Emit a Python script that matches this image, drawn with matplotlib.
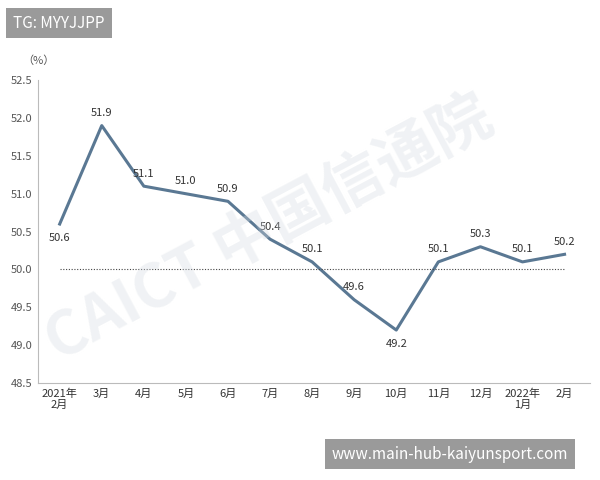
import matplotlib
matplotlib.use("Agg")
import matplotlib.pyplot as plt

plt.rcParams['font.family'] = ['Noto Sans CJK SC', 'DejaVu Sans']

categories = ["2021年\n2月", "3月", "4月", "5月", "6月", "7月", "8月", "9月", "10月", "11月", "12月", "2022年\n1月", "2月"]
values = [50.6, 51.9, 51.1, 51.0, 50.9, 50.4, 50.1, 49.6, 49.2, 50.1, 50.3, 50.1, 50.2]
yticks = [48.5, 49.0, 49.5, 50.0, 50.5, 51.0, 51.5, 52.0, 52.5]
below = {0, 8}

fig = plt.figure(figsize=(6, 4.8), dpi=100)
ax = fig.add_axes([0.063, 0.202, 0.92, 0.631])
x = list(range(len(categories)))
ax.plot(x, values, color='#5a7893', lw=2.2)
for xi, v in zip(x, values):
    if xi in below:
        ax.text(xi, v - 0.12, f"{v:.1f}", ha='center', va='top', fontsize=8, color='#333333')
    else:
        ax.text(xi, v + 0.1, f"{v:.1f}", ha='center', va='bottom', fontsize=8, color='#333333')
ax.plot([x[0], x[-1]], [50, 50], color='#444444', lw=0.8, ls=(0, (1, 1.5)))
ax.set_xlim(-0.52, 12.6)
ax.set_ylim(48.5, 52.5)
ax.set_yticks(yticks)
ax.set_yticklabels([f"{t:.1f}" for t in yticks], fontsize=8, color='#555555')
ax.set_xticks(x)
ax.set_xticklabels(categories, fontsize=8, color='#333333', linespacing=1.1)
ax.tick_params(axis='both', length=0, pad=4)
for s in ['top', 'right']:
    ax.spines[s].set_visible(False)
for s in ['left', 'bottom']:
    ax.spines[s].set_color('#bbbbbb')
ax.text(-0.5, 52.72, "（%）", fontsize=8, color='#555555', ha='center')

fig.text(0.45, 0.52, "CAICT 中国信通院", fontsize=44, color='#d5dbe2', alpha=0.35,
         rotation=28, ha='center', va='center', fontweight='bold', zorder=0)
fig.text(0.022, 0.952, "TG: MYYJJPP", fontsize=11, color='white', va='center',
         bbox=dict(boxstyle='square,pad=0.45', fc='#9a9a9a', ec='none'))
fig.text(0.553, 0.054, "www.main-hub-kaiyunsport.com", fontsize=11, color='white', va='center',
         bbox=dict(boxstyle='square,pad=0.45', fc='#9a9a9a', ec='none'))
fig.savefig("out.png", dpi=100)
